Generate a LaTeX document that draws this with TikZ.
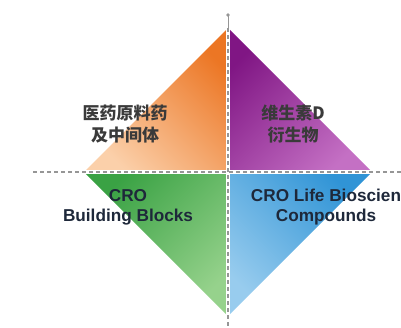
\documentclass[tikz,border=0pt]{standalone}
\usepackage{fontspec}
\setmainfont{Liberation Sans}
\newfontfamily\cjk{Noto Sans CJK SC}
\usetikzlibrary{positioning,arrows.meta}
\definecolor{orangedark}{RGB}{236,118,36}
\definecolor{orangelight}{RGB}{251,208,170}
\definecolor{purpledark}{RGB}{128,22,132}
\definecolor{purplelight}{RGB}{196,112,196}
\definecolor{greendark}{RGB}{58,162,68}
\definecolor{greenlight}{RGB}{150,210,140}
\definecolor{bluelight}{RGB}{152,204,238}
\definecolor{bluedark}{RGB}{48,148,214}
\definecolor{axisgray}{RGB}{150,150,150}
\definecolor{textgray}{RGB}{58,58,58}
\definecolor{textnavy}{RGB}{30,40,58}
\tikzset{%
quadrant/.style={draw=none},
gapline/.style={draw=white,line width=4pt},
axisline/.style={draw=axisgray,line width=1.3pt,dash pattern=on 4pt off 3pt},
cjklabel/.style={font=\cjk\bfseries\fontsize{17}{22}\selectfont,text=textgray,align=center,inner sep=0pt},
crolabel/.style={font=\bfseries\fontsize{17.2}{20}\selectfont,text=textnavy,align=center,inner sep=0pt}
}
\begin{document}
\begin{tikzpicture}[x=1pt,y=-1pt]
  \useasboundingbox (0,0) rectangle (401,327);

  % diamond corners
  \coordinate (c) at (228,172);
  \coordinate (top) at (228,28);
  \coordinate (bot) at (228,316);
  \coordinate (lft) at (84,172);
  \coordinate (rgt) at (372,172);
  % axis ends
  \coordinate (vstart) at (228,15);
  \coordinate (vend) at (228,327);
  \coordinate (hstart) at (33,172);
  \coordinate (hend) at (401,172);

  % quadrants
  \shade[quadrant,top color=orangedark,bottom color=orangelight,shading angle=-45] (c) -- (top) -- (lft) -- cycle;
  \shade[quadrant,top color=purpledark,bottom color=purplelight,shading angle=45] (c) -- (top) -- (rgt) -- cycle;
  \shade[quadrant,top color=greendark,bottom color=greenlight,shading angle=45] (c) -- (lft) -- (bot) -- cycle;
  \shade[quadrant,top color=bluedark,bottom color=bluelight,shading angle=-45] (c) -- (rgt) -- (bot) -- cycle;

  % axes
  \draw[gapline] (hstart) -- (hend);
  \draw[gapline] (top) -- (bot);
  \draw[axisline] (hstart) -- (hend);
  \draw[axisline] (top) -- (vend);
  \fill[axisgray] (vstart) circle (1.8pt);
  \draw[axisgray,line width=1pt] (vstart) -- (top);

  % labels
  \node[cjklabel] (pharma) at (125,124) {医药原料药\\及中间体};
  \node[cjklabel] (vitd) at (293,124) {维生素D\\衍生物};
  \node[crolabel] (blocks) at (128,207) {CRO\\Building Blocks};
  \node[crolabel] (life) at (326,207) {CRO Life Bioscien\\Compounds};
\end{tikzpicture}
\end{document}
